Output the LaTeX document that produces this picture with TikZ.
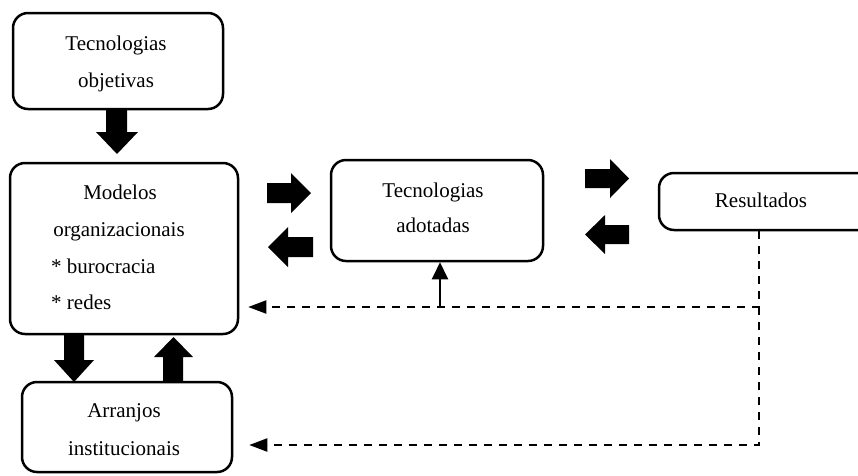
\documentclass[tikz,border=0pt]{standalone}
\usepackage{fontspec}
\setmainfont{Liberation Serif}
\usetikzlibrary{arrows.meta,calc}
\begin{document}
\begin{tikzpicture}[x=1pt,y=-1pt,
  box/.style={draw=black,line width=2.5pt,rounded corners=15pt,inner sep=0pt,fill=white},
  txt/.style={anchor=base,inner sep=0pt,font=\fontsize{21}{25}\selectfont},
  blk/.style={fill=black},
  fb/.style={densely dashed,line width=2pt,dash pattern=on 8pt off 7pt,-{Triangle[length=18pt,width=13pt]}},
  up/.style={line width=2pt,-{Triangle[length=17pt,width=16pt]}}]
\useasboundingbox (0,0) rectangle (858,475);
\clip (0,0) rectangle (858,475);
% boxes
\node[box,minimum width=210pt,minimum height=96pt] (tobj) at (118,61) {};
\node[box,minimum width=228pt,minimum height=171pt] (mod) at (124,248.5) {};
\node[box,minimum width=212pt,minimum height=101pt] (tad) at (437,210.5) {};
\node[box,minimum width=232pt,minimum height=57pt] (res) at (775,201.5) {};
\node[box,minimum width=210pt,minimum height=90pt] (arr) at (127,427) {};
% texts
\node[txt] (t1) at (116,50) {Tecnologias};
\node[txt] (t2) at (116,87) {objetivas};
\node[txt] (m1) at (120,199) {Modelos};
\node[txt] (m2) at (119,236) {organizacionais};
\node[txt,anchor=base west] (m3) at (51,273) {* burocracia};
\node[txt,anchor=base west] (m4) at (51,309) {* redes};
\node[txt] (a1) at (433,197) {Tecnologias};
\node[txt] (a2) at (433,232) {adotadas};
\node[txt] (r1) at (761,207) {Resultados};
\node[txt] (i1) at (124,417) {Arranjos};
\node[txt] (i2) at (124,455) {institucionais};
% block arrows
\fill[blk] (106,109)--(127,109)--(127,132)--(138,132)--(117,154)--(96,132)--(106,132)--cycle;
\fill[blk] (311,193)--(291,173)--(291,183)--(267,183)--(267,203)--(291,203)--(291,213)--cycle;
\fill[blk] (268,247)--(288,227)--(288,237)--(313,237)--(313,257)--(288,257)--(288,267)--cycle;
\fill[blk] (629,178.5)--(610,159)--(610,169)--(585,169)--(585,188)--(610,188)--(610,198)--cycle;
\fill[blk] (585,234.5)--(605,215)--(605,225)--(629,225)--(629,244)--(605,244)--(605,254)--cycle;
\fill[blk] (64,335)--(84,335)--(84,360)--(94,360)--(74,382)--(54,360)--(64,360)--cycle;
\fill[blk] (163,382)--(183,382)--(183,357)--(193,357)--(173.5,337)--(154,357)--(163,357)--cycle;
% feedback
\coordinate (rs) at ($(res.south west)+(101,0)$);
\coordinate (c1) at (rs |- 0,307);
\coordinate (c2) at (rs |- 0,445);
\coordinate (c3) at (440,307);
\draw[fb] (rs) -- (c1) -- ($(mod.east |- c1)+(9,0)$);
\draw[fb] (c1) -- (c2) -- ($(arr.east |- c2)+(16,0)$);
\draw[up] (c3) -- (c3 |- tad.south);
\end{tikzpicture}
\end{document}
